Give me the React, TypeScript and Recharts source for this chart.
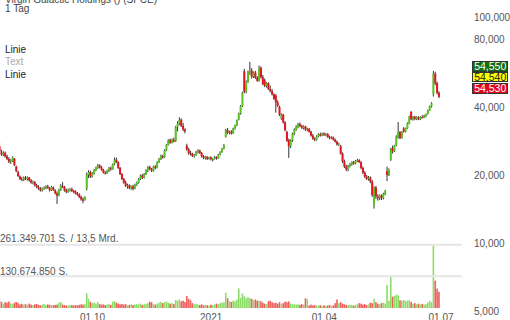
import React from 'react';
import {
  ComposedChart, Bar, XAxis, YAxis, ReferenceLine,
} from 'recharts';

// daily candles, prices quoted in thousands (26.8 -> 26,800)
const open = [
  26.8, 25.2, 24.7, 25.1, 24.2, 23.6, 22.9, 23.0, 23.6, 21.8,
  20.6, 19.7, 19.2, 19.0, 19.4, 19.2, 19.5, 18.9, 18.5, 18.6,
  18.0, 17.7, 17.4, 17.1, 17.4, 17.6, 17.8, 17.5, 17.1, 17.6,
  17.1, 16.6, 16.3, 17.2, 17.9, 17.7, 17.1, 16.8, 17.2, 17.3,
  17.0, 16.9, 16.5, 16.4, 16.0, 15.6, 15.5, 17.4, 20.0, 20.6,
  19.7, 20.4, 21.0, 21.5, 22.1, 21.6, 21.1, 20.5, 20.3, 20.9,
  21.4, 21.2, 22.3, 23.4, 22.8, 21.5, 20.2, 19.2, 18.5, 17.9,
  18.0, 17.5, 17.8, 17.4, 18.1, 18.5, 19.2, 19.9, 19.5, 20.2,
  21.0, 21.7, 21.3, 20.9, 21.8, 21.5, 22.8, 23.5, 24.3, 24.0,
  25.7, 27.2, 28.5, 27.8, 28.7, 28.2, 32.6, 33.8, 35.2, 33.0,
  31.8, 27.0, 26.0, 25.0, 24.8, 24.3, 24.5, 25.3, 25.7, 25.0,
  24.2, 23.8, 24.0, 23.6, 23.9, 23.5, 23.6, 24.0, 23.7, 24.6,
  25.3, 26.2, 29.5, 31.6, 30.8, 31.1, 30.6, 32.1, 33.1, 35.2,
  37.4, 40.4, 57.6, 46.8, 51.8, 57.0, 58.0, 54.5, 56.8, 53.8,
  52.2, 59.6, 54.2, 52.5, 49.6, 51.0, 48.0, 47.0, 45.5, 45.0,
  42.0, 40.0, 35.6, 37.0, 34.2, 31.0, 28.6, 26.8, 28.4, 30.4,
  31.8, 32.6, 33.6, 33.0, 32.3, 32.8, 31.7, 32.0, 31.1, 29.9,
  29.0, 28.6, 29.7, 30.3, 29.9, 30.5, 30.1, 30.4, 29.5, 29.1,
  29.4, 28.7, 28.1, 27.3, 26.8, 24.9, 23.0, 21.8, 21.2, 22.0,
  22.3, 22.8, 22.5, 23.1, 23.3, 22.8, 21.5, 20.5, 19.7, 19.2,
  19.5, 18.7, 14.8, 17.6, 16.1, 15.8, 16.2, 15.8, 16.5, 20.8,
  20.0, 23.4, 26.3, 25.5, 27.0, 29.5, 31.0, 29.2, 32.2, 31.1,
  32.2, 33.9, 38.0, 35.3, 36.2, 35.4, 36.0, 35.3, 36.1, 35.9,
  36.8, 37.2, 38.6, 40.3, 45.5, 56.2, 51.0, 46.2,
];
const high = [
  27.8, 25.9, 25.5, 25.4, 24.6, 24.0, 23.5, 24.2, 23.8, 22.0,
  20.9, 19.9, 19.6, 19.7, 19.8, 19.7, 19.6, 19.2, 18.9, 18.8,
  18.3, 18.0, 17.7, 17.6, 17.8, 18.0, 18.1, 17.7, 17.9, 17.8,
  17.3, 16.9, 17.4, 18.2, 18.6, 17.9, 17.4, 17.4, 17.5, 17.6,
  17.2, 17.1, 16.8, 16.6, 16.2, 15.9, 16.1, 20.5, 21.0, 20.9,
  20.6, 21.3, 21.8, 22.4, 22.3, 21.9, 21.3, 20.8, 21.1, 21.7,
  21.8, 22.5, 23.9, 23.9, 23.0, 21.7, 20.4, 19.4, 18.9, 18.3,
  18.2, 18.0, 18.1, 18.3, 18.7, 19.4, 20.1, 20.2, 20.4, 21.2,
  21.9, 22.0, 21.5, 22.0, 22.1, 23.0, 23.8, 24.6, 24.6, 26.0,
  27.4, 28.8, 29.0, 29.0, 29.3, 33.0, 34.6, 36.0, 35.6, 34.0,
  32.2, 27.5, 26.4, 25.6, 25.1, 24.8, 25.6, 26.0, 25.9, 25.3,
  24.5, 24.3, 24.3, 24.1, 24.2, 23.8, 24.3, 24.2, 24.8, 25.5,
  26.4, 27.4, 32.0, 32.3, 31.4, 31.6, 32.4, 33.4, 35.2, 37.8,
  40.8, 46.8, 59.0, 52.5, 58.0, 63.4, 59.5, 57.5, 57.8, 54.8,
  61.0, 60.5, 55.5, 53.5, 51.5, 51.5, 49.8, 48.0, 46.0, 45.6,
  42.8, 40.5, 37.5, 37.3, 34.6, 31.4, 29.0, 28.8, 30.8, 32.2,
  33.2, 34.0, 34.2, 33.4, 33.2, 33.0, 32.4, 32.3, 31.4, 30.4,
  29.4, 30.0, 30.6, 30.8, 30.8, 30.9, 30.7, 30.6, 29.9, 29.7,
  29.6, 29.0, 28.4, 27.8, 27.2, 25.2, 23.4, 22.2, 22.2, 22.6,
  23.0, 23.1, 23.3, 23.6, 23.5, 23.0, 21.8, 20.8, 20.0, 19.8,
  19.7, 19.0, 17.8, 17.9, 16.4, 16.4, 16.4, 16.7, 17.2, 21.8,
  21.4, 26.4, 27.0, 27.2, 30.0, 34.3, 31.3, 31.3, 32.6, 32.4,
  34.2, 36.6, 38.4, 36.5, 36.6, 36.4, 36.4, 36.4, 36.8, 37.0,
  37.4, 39.0, 40.6, 42.0, 57.8, 57.3, 51.8, 47.0,
];
const low = [
  25.0, 24.3, 24.2, 23.9, 23.3, 22.6, 22.4, 22.8, 21.9, 20.6,
  19.6, 19.0, 18.8, 18.8, 19.0, 18.9, 18.7, 18.3, 18.2, 17.8,
  17.5, 17.2, 16.9, 16.9, 17.2, 17.3, 17.4, 16.9, 17.0, 17.0,
  16.4, 14.9, 16.1, 17.0, 17.5, 16.9, 16.6, 16.7, 16.9, 16.8,
  16.6, 16.4, 16.2, 15.8, 15.4, 15.0, 15.4, 17.1, 19.4, 19.4,
  19.5, 20.1, 20.8, 21.3, 21.4, 20.9, 20.3, 20.1, 20.2, 20.6,
  20.9, 21.1, 22.1, 22.6, 21.3, 20.0, 19.0, 18.3, 17.7, 17.4,
  17.3, 17.2, 17.1, 17.3, 17.9, 18.3, 19.0, 19.2, 19.3, 20.0,
  20.6, 21.0, 20.6, 20.7, 21.2, 21.4, 22.6, 23.3, 23.6, 23.8,
  25.5, 27.0, 27.5, 27.6, 27.9, 28.0, 31.2, 33.2, 32.6, 31.3,
  30.6, 25.6, 24.6, 24.4, 24.0, 23.9, 24.3, 24.9, 24.8, 23.9,
  23.5, 23.4, 23.3, 23.4, 23.2, 23.0, 23.4, 23.4, 23.6, 24.4,
  25.1, 26.0, 29.3, 30.4, 30.3, 30.2, 30.4, 31.8, 32.9, 34.9,
  37.0, 40.0, 46.0, 46.0, 51.2, 55.5, 53.5, 53.8, 53.3, 51.8,
  51.8, 53.5, 50.0, 49.0, 48.8, 47.6, 46.5, 45.0, 43.0, 37.8,
  40.0, 36.5, 35.1, 33.8, 31.2, 28.0, 23.8, 26.3, 28.0, 30.0,
  31.4, 32.2, 32.6, 32.0, 31.8, 31.4, 31.2, 30.8, 29.6, 28.6,
  28.2, 28.4, 29.4, 29.6, 29.7, 29.8, 29.7, 29.2, 28.8, 28.8,
  28.4, 27.8, 27.0, 26.9, 24.6, 22.6, 21.5, 20.8, 20.8, 21.6,
  22.0, 22.2, 22.3, 22.8, 22.6, 21.2, 20.2, 19.4, 19.0, 18.9,
  18.4, 16.0, 14.2, 15.7, 15.4, 15.5, 15.5, 15.6, 16.3, 18.8,
  19.8, 23.1, 24.9, 25.3, 26.8, 29.0, 28.8, 29.0, 30.8, 30.9,
  32.0, 33.6, 35.0, 34.8, 35.0, 35.0, 35.0, 35.0, 35.6, 35.7,
  36.0, 37.0, 38.4, 39.8, 44.5, 50.0, 45.5, 43.8,
];
const close = [
  25.4, 24.7, 25.1, 24.2, 23.6, 22.9, 23.2, 24.0, 22.1, 20.8,
  19.8, 19.2, 19.0, 19.5, 19.2, 19.5, 18.9, 18.5, 18.7, 18.0,
  17.7, 17.4, 17.1, 17.4, 17.6, 17.8, 17.5, 17.1, 17.7, 17.2,
  16.6, 16.2, 17.2, 17.9, 17.7, 17.1, 16.8, 17.2, 17.3, 17.0,
  16.9, 16.5, 16.4, 16.0, 15.6, 15.4, 16.0, 20.0, 20.6, 19.7,
  20.4, 21.0, 21.5, 22.1, 21.6, 21.1, 20.5, 20.3, 20.9, 21.4,
  21.2, 22.3, 23.4, 22.8, 21.5, 20.2, 19.2, 18.5, 17.9, 18.0,
  17.5, 17.8, 17.4, 18.1, 18.5, 19.2, 19.9, 19.5, 20.2, 21.0,
  21.7, 21.3, 20.9, 21.8, 21.5, 22.8, 23.5, 24.3, 24.0, 25.7,
  27.2, 28.5, 27.8, 28.7, 28.2, 32.6, 33.8, 35.2, 33.0, 31.8,
  31.2, 26.0, 25.0, 24.8, 24.3, 24.5, 25.3, 25.7, 25.0, 24.2,
  23.8, 24.0, 23.6, 23.9, 23.5, 23.6, 24.0, 23.7, 24.6, 25.3,
  26.2, 27.1, 31.6, 30.8, 31.1, 30.6, 32.1, 33.1, 34.8, 37.4,
  40.4, 46.3, 46.8, 51.8, 57.3, 58.0, 54.5, 56.8, 53.8, 52.2,
  59.6, 54.2, 50.5, 49.6, 51.0, 48.0, 47.0, 45.5, 43.5, 42.0,
  40.5, 37.0, 37.0, 34.2, 31.6, 28.4, 26.8, 28.4, 30.4, 31.8,
  32.9, 33.6, 33.0, 32.3, 32.8, 31.7, 32.0, 31.1, 29.9, 29.0,
  28.6, 29.7, 30.3, 29.9, 30.5, 30.1, 30.4, 29.5, 29.1, 29.4,
  28.7, 28.1, 27.3, 27.5, 24.9, 23.0, 21.8, 21.2, 22.0, 22.3,
  22.8, 22.5, 23.1, 23.3, 22.8, 21.5, 20.5, 19.7, 19.2, 19.5,
  18.7, 16.3, 17.6, 16.1, 15.8, 16.2, 15.8, 16.5, 17.0, 20.0,
  21.0, 26.0, 25.5, 27.0, 29.5, 31.0, 29.2, 31.0, 31.1, 32.2,
  33.9, 36.3, 35.3, 36.2, 35.4, 36.0, 35.3, 36.1, 35.9, 36.8,
  37.2, 38.6, 40.3, 41.6, 56.2, 51.0, 46.2, 44.4,
];
// volume in millions of shares
const volume = [
  40, 26, 18, 24, 22, 27, 20, 16, 22, 25, 20, 15, 17, 14,
  16, 13, 18, 14, 12, 15, 17, 13, 11, 14, 16, 12, 15, 13,
  12, 11, 13, 14, 22, 25, 14, 12, 10, 11, 13, 12, 10, 12, 11, 13, 15, 14, 16,
  60, 38, 25, 20, 22, 18, 24, 16, 14, 15, 12, 14, 16, 13,
  26, 28, 22, 18, 15, 17, 14, 16, 12, 13, 15, 12, 14, 16, 15, 18, 13, 15, 17, 20,
  26, 24, 16, 14, 18, 22, 25, 20, 24, 26, 22, 18, 20, 16, 33, 30, 35, 28, 30, 25,
  50, 38, 32, 20, 15, 17, 14, 12, 15, 11, 13, 12, 10, 14, 12, 15, 18, 16, 20, 22, 24,
  63, 40, 28, 25, 30, 27, 35, 81, 42, 60, 48, 40, 45, 40, 38,
  32, 35, 30, 30, 28, 22, 18, 16, 28, 30, 24, 20, 22, 18, 24, 16, 20, 26, 24, 27, 18, 15, 16, 14, 15, 13, 16,
  14, 40, 36, 10, 14, 11, 12, 9, 10, 12, 8, 11, 9, 10, 12, 9, 11, 20, 35, 20,
  24, 18, 15, 13, 11, 14, 12, 10, 13, 15, 20, 18, 14, 16, 12, 15, 22, 20, 38, 24, 18, 16, 20, 22,
  18, 95, 30, 133, 47, 50, 55, 52, 32, 30, 33, 28, 30, 32, 25, 18, 20, 16, 18, 15, 17, 14, 16, 22, 30, 24, 261.35, 113, 80, 67,
];

const tickIdx = [50, 114, 175, 238];
const tickLabels = ['01.10', '2021', '01.04', '01.07'];
const priceTicks = [5000, 10000, 20000, 40000, 80000, 100000];
const volLines = [261349701, 130674850];
const volLineLabels = ['261.349.701 S. / 13,5 Mrd.', '130.674.850 S.'];
const lastQuotes = ['54,550', '54,540', '54,530'];

const GREEN = '#58c322';
const RED = '#e5121c';
const WICK = '#333';
const VOL_UP = '#8edc68';
const VOL_DOWN = '#ef5d5d';
const FONT = '"Liberation Sans", Arial, sans-serif';

const rows = close.map((c, i) => ({
  i,
  open: open[i] * 1000,
  high: high[i] * 1000,
  low: low[i] * 1000,
  close: c * 1000,
  vol: volume[i] * 1e6,
  dir: i === 0 ? 0 : c >= close[i - 1] ? 1 : -1,
}));

const Candle = (props: any) => {
  const { x, y, width, height, payload } = props;
  if (x == null || !payload) return null;
  const top = Math.min(y, y + height);
  const h = Math.abs(height);
  const lh = Math.log(payload.high);
  const span = lh - Math.log(payload.low) || 1;
  // the bar spans low..high on a log axis, so interpolate in log space
  const toY = (v: number) => top + ((lh - Math.log(v)) / span) * h;
  const cx = x + width / 2;
  const up = payload.close >= payload.open;
  const y1 = toY(Math.max(payload.open, payload.close));
  const y2 = toY(Math.min(payload.open, payload.close));
  return (
    <g>
      <line x1={cx} x2={cx} y1={top} y2={top + h} stroke={WICK} strokeWidth={1} />
      <rect x={cx - 1} y={y1} width={2} height={Math.max(1, y2 - y1)} fill={up ? GREEN : RED} />
    </g>
  );
};

const VolBar = (props: any) => {
  const { x, y, width, height, payload } = props;
  if (x == null || !payload) return null;
  const cx = x + width / 2;
  const fill = payload.dir === 0 ? '#cfcfcf' : payload.dir > 0 ? VOL_UP : VOL_DOWN;
  return <rect x={cx - 0.8} y={Math.min(y, y + height)} width={1.6} height={Math.abs(height)} fill={fill} />;
};

const txt = (top: number, left: number, color: string): React.CSSProperties => ({
  position: 'absolute', top, left, fontSize: 10, lineHeight: '10px', color, whiteSpace: 'nowrap',
});

const boxes = [
  { bg: '#0e6e12', fg: '#fff', top: 61, h: 10.5 },
  { bg: '#ffff00', fg: '#222', top: 71.5, h: 10.5 },
  { bg: '#e0061c', fg: '#fff', top: 82.5, h: 11.5 },
];

export default function App() {
  return (
    <div style={{ position: 'absolute', left: 0, top: 0, width: 510, height: 320, overflow: 'hidden', background: '#fff', fontFamily: FONT }}>
      <ComposedChart width={510} height={320} data={rows} margin={{ top: 0, right: 0, bottom: 0, left: 0 }}>
        <XAxis
          xAxisId="p"
          dataKey="i"
          type="number"
          domain={[0.1, 249.3]}
          allowDataOverflow
          ticks={tickIdx}
          interval={0}
          tickFormatter={(v) => tickLabels[tickIdx.indexOf(v)] ?? ''}
          axisLine={false}
          tickLine={false}
          tickSize={0}
          tickMargin={3}
          height={9}
          tick={{ fontSize: 10, fill: '#555', fontFamily: FONT }}
        />
        <XAxis xAxisId="v" dataKey="i" type="number" domain={[0.1, 249.3]} allowDataOverflow hide />
        <YAxis
          yAxisId="p"
          orientation="right"
          scale="log"
          domain={[5000, 119100]}
          allowDataOverflow
          ticks={priceTicks}
          interval={0}
          width={48}
          axisLine={false}
          tickLine={false}
          tickSize={0}
          tickMargin={12}
          tick={{ fontSize: 10, fill: '#555', fontFamily: FONT }}
          tickFormatter={(v) => Number(v).toLocaleString('en-US')}
        />
        <YAxis yAxisId="v" hide domain={[-12.39e6, 1271.7e6]} allowDataOverflow />
        {volLines.map((v) => (
          <ReferenceLine key={v} xAxisId="v" yAxisId="v" y={v} stroke="#e6e6e6" strokeWidth={2} />
        ))}
        <Bar xAxisId="v" yAxisId="v" dataKey="vol" shape={<VolBar />} isAnimationActive={false} />
        <Bar
          xAxisId="p"
          yAxisId="p"
          dataKey={(d: any) => [d.low, d.high]}
          shape={<Candle />}
          isAnimationActive={false}
        />
      </ComposedChart>

      <div style={txt(-4.8, 5, '#444')}>Virgin Galactic Holdings () (SPCE)</div>
      <div style={txt(3.8, 5, '#444')}>1 Tag</div>
      <div style={txt(44.8, 5, '#222')}>Linie</div>
      <div style={txt(57.2, 5, '#aaa')}>Text</div>
      <div style={txt(69.8, 5, '#222')}>Linie</div>

      {volLineLabels.map((t, k) => (
        <div key={t} style={txt(k === 0 ? 234.4 : 266.8, 0, '#555')}>{t}</div>
      ))}

      {lastQuotes.map((q, k) => (
        <div
          key={q}
          style={{
            position: 'absolute', left: 471.7, top: boxes[k].top, width: 36, height: boxes[k].h,
            boxSizing: 'border-box', border: '1px solid #333', background: boxes[k].bg, color: boxes[k].fg,
            fontSize: 10.5, lineHeight: `${boxes[k].h - 2}px`, paddingLeft: 1.5,
          }}
        >
          {q}
        </div>
      ))}
    </div>
  );
}
